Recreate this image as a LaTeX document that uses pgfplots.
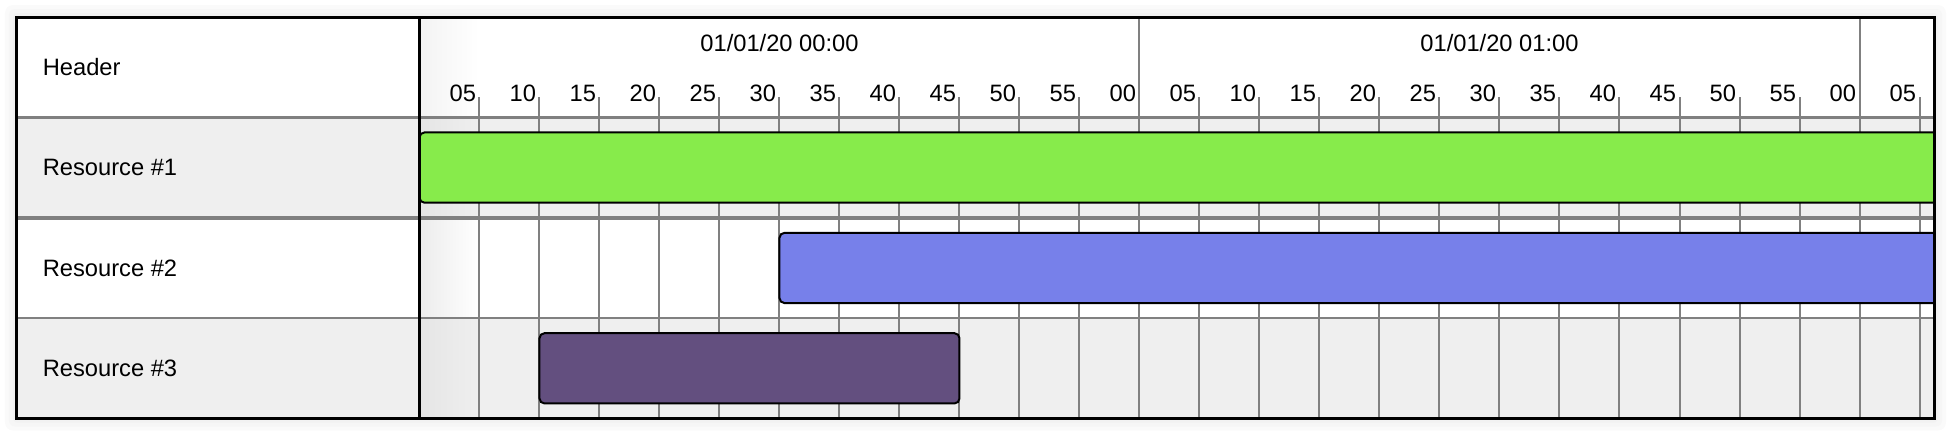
\documentclass[border=0pt]{standalone}
\usepackage{pgfplots}
\pgfplotsset{compat=1.18}
\usepackage{fontspec}
\setmainfont{Liberation Sans}
\definecolor{rowgray}{RGB}{239,239,239}
\definecolor{rowgrayd}{RGB}{229,229,229}
\definecolor{whited}{RGB}{236,236,236}
\definecolor{headd}{RGB}{243,243,243}
\definecolor{gridgray}{RGB}{128,128,128}
\definecolor{bargreen}{RGB}{135,235,75}
\definecolor{barblue}{RGB}{119,128,234}
\definecolor{barpurple}{RGB}{99,79,127}
\definecolor{glowa}{RGB}{250,250,250}
\definecolor{glowb}{RGB}{246,246,246}
\definecolor{glowc}{RGB}{242,242,242}
\newcommand\f{\fontsize{11.85pt}{14pt}\selectfont}
\begin{document}
\begin{tikzpicture}
\useasboundingbox (-8.5pt,-8.75pt) rectangle (968.5pt,209.25pt);
% faint glow around the frame
\fill[glowa, rounded corners=4pt] (-6pt,-6pt) rectangle (964.5pt,206.75pt);
\fill[glowb, rounded corners=3pt] (-4pt,-4pt) rectangle (962.5pt,204.75pt);
\fill[glowc, rounded corners=2pt] (-2pt,-2pt) rectangle (960.5pt,202.75pt);
\begin{axis}[
  at={(0,0)}, anchor=south west,
  scale only axis, width=958.5pt, height=200.75pt,
  xmin=-33.54, xmax=126.21, ymin=-1, ymax=3, y dir=reverse,
  xtick=\empty, ytick=\empty,
  axis background/.style={fill=white},
  axis on top, axis line style={black, line width=1.5pt},
  clip=true,
]
% row backgrounds
\fill[rowgray] (-33.54,0) rectangle (126.21,1);
\fill[rowgray] (-33.54,2) rectangle (126.21,3);
% shadow of the frozen column
\shade[left color=headd, right color=white] (0,-1) rectangle (5,0);
\shade[left color=rowgrayd, right color=rowgray] (0,0) rectangle (5,1);
\shade[left color=whited, right color=white] (0,1) rectangle (5,2);
\shade[left color=rowgrayd, right color=rowgray] (0,2) rectangle (5,3);
% grid, ticks and minute labels
\pgfplotsinvokeforeach{1,...,25}{
  \draw[gridgray, line width=1pt] (#1*5,-0.2) -- (#1*5,3);
  \node[font=\f, anchor=east, inner sep=0pt] at (#1*5-0.25,-0.24)
    {\pgfmathtruncatemacro\m{mod(#1*5,60)}\ifnum\m<10 0\fi\m};
}
\draw[gridgray, line width=1pt] (60,-1) -- (60,0);
\draw[gridgray, line width=1pt] (120,-1) -- (120,0);
% row separators
\draw[gridgray, line width=1.2pt] (-33.54,0) -- (126.21,0);
\draw[gridgray, line width=1.75pt] (-33.54,1) -- (126.21,1);
\draw[gridgray, line width=1.2pt] (-33.54,2) -- (126.21,2);
\draw[gridgray, line width=1pt] (-33.54,2.99) -- (126.21,2.99);
% bars (start, end in minutes after 00:00)
\addplot[fill=bargreen, draw=black, line width=1pt, rounded corners=2.5pt]
  coordinates {(0,0.15) (127,0.15) (127,0.85) (0,0.85)} -- cycle;
\addplot[fill=barblue, draw=black, line width=1pt, rounded corners=2.5pt]
  coordinates {(30,1.15) (127,1.15) (127,1.85) (30,1.85)} -- cycle;
\addplot[fill=barpurple, draw=black, line width=1pt, rounded corners=2.5pt]
  coordinates {(10,2.15) (45,2.15) (45,2.85) (10,2.85)} -- cycle;
% column separator
\draw[black, line width=1.5pt] (0,-1) -- (0,3);
% texts
\node[font=\f, anchor=west, inner sep=0pt] at (-31.42,-0.5) {Header};
\node[font=\f, anchor=west, inner sep=0pt] at (-31.42,0.5) {Resource \#1};
\node[font=\f, anchor=west, inner sep=0pt] at (-31.42,1.5) {Resource \#2};
\node[font=\f, anchor=west, inner sep=0pt] at (-31.42,2.5) {Resource \#3};
\node[font=\f, inner sep=0pt] at (30,-0.738) {01/01/20 00:00};
\node[font=\f, inner sep=0pt] at (90,-0.738) {01/01/20 01:00};
\end{axis}
\end{tikzpicture}
\end{document}
